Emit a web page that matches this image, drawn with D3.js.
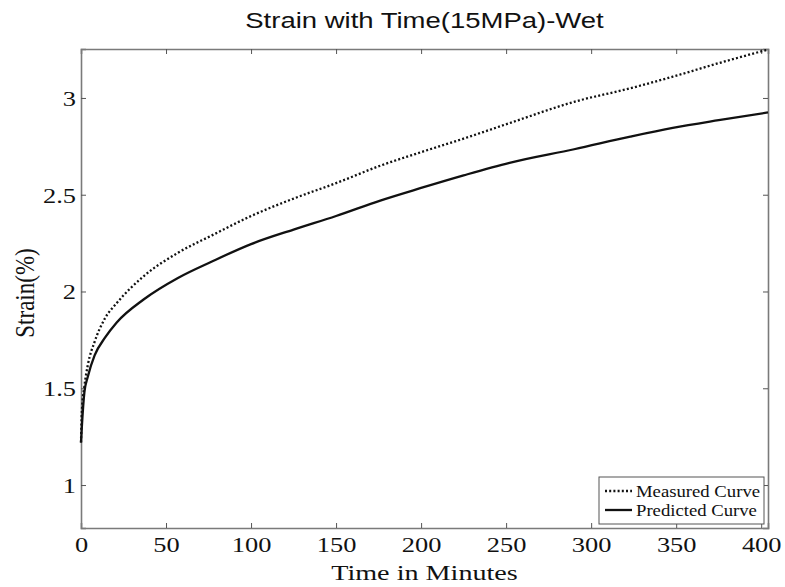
<!DOCTYPE html>
<html>
<head>
<meta charset="utf-8">
<script src="https://cdn.jsdelivr.net/npm/d3@7"></script>
<style>
  body { margin: 0; background: #fff; }
  svg { display: block; }
</style>
</head>
<body>
<script>
// time in minutes, strain in %
var times = [0, 0.5, 2, 4, 8, 14, 21, 37, 57, 77, 100, 125, 150, 176, 200, 225, 252, 290, 323, 348, 375, 404];
var measured = [1.22, 1.38, 1.51, 1.62, 1.74, 1.86, 1.94, 2.08, 2.20, 2.29, 2.39, 2.48, 2.56, 2.65, 2.72, 2.79, 2.87, 2.98, 3.05, 3.11, 3.18, 3.25];
var predicted = [1.22, 1.30, 1.48, 1.56, 1.67, 1.76, 1.84, 1.96, 2.07, 2.155, 2.245, 2.32, 2.39, 2.47, 2.535, 2.60, 2.665, 2.735, 2.80, 2.845, 2.885, 2.925];
var xTicks = [0, 50, 100, 150, 200, 250, 300, 350, 400];
var yTicks = [1, 1.5, 2, 2.5, 3];
var legendNames = ["Measured Curve", "Predicted Curve"];

var W = 785, H = 587;
var m = {left: 81, right: 17, top: 49, bottom: 59};
var iw = W - m.left - m.right, ih = H - m.top - m.bottom;
var sx = 1.2; // the original figure is stretched sideways

var svg = d3.select("body").append("svg").attr("width", W).attr("height", H);
var g = svg.append("g").attr("transform", "translate(" + m.left + "," + m.top + ")");

var x = d3.scaleLinear().domain([0, 404]).range([0, iw]);
var y = d3.scaleLinear().domain([0.778, 3.253]).range([ih, 0]);

var frameCol = "#7a7a7a";
var serif = "'Liberation Serif', 'Times New Roman', serif";

// axes, ticks pointing inwards on all four sides
var xb = g.append("g").attr("transform", "translate(0," + ih + ")")
  .call(d3.axisBottom(x).tickValues(xTicks).tickSize(-5).tickPadding(10).tickFormat(d3.format("d")));
var xt = g.append("g")
  .call(d3.axisTop(x).tickValues(xTicks).tickSize(-5).tickFormat(""));
var yl = g.append("g")
  .call(d3.axisLeft(y).tickValues(yTicks).tickSize(-5).tickPadding(10).tickFormat(d3.format("")));
var yr = g.append("g").attr("transform", "translate(" + iw + ",0)")
  .call(d3.axisRight(y).tickValues(yTicks).tickSize(-5).tickFormat(""));

[xb, xt, yl, yr].forEach(function(a) {
  a.select(".domain").attr("stroke", frameCol).attr("stroke-width", 1.6);
  a.selectAll(".tick line").attr("stroke", "#555").attr("stroke-width", 1);
  a.selectAll("text").attr("font-family", serif).attr("font-size", 22).attr("fill", "#111")
    .attr("transform", "scale(" + sx + ",1)");
});
yl.selectAll("text").attr("x", -5 / sx).attr("dy", "0.34em");
xb.selectAll("text").attr("y", 24).attr("dy", 0);

var line = d3.line()
  .x(function(d, i) { return x(times[i]); })
  .y(function(d) { return y(d); })
  .curve(d3.curveMonotoneX);

g.append("path").datum(predicted)
  .attr("fill", "none").attr("stroke", "#111").attr("stroke-width", 2.3)
  .attr("d", line);

g.append("path").datum(measured)
  .attr("fill", "none").attr("stroke", "#111").attr("stroke-width", 2.3)
  .attr("stroke-dasharray", "2,2.2")
  .attr("d", line);

// title and axis labels
svg.append("text")
  .attr("transform", "translate(" + (m.left + iw / 2) + ",28) scale(1.25,1)")
  .attr("text-anchor", "middle").attr("font-family", "'Liberation Sans', Arial, sans-serif")
  .attr("font-size", 22).attr("fill", "#111").text("Strain with Time(15MPa)-Wet");

svg.append("text")
  .attr("transform", "translate(" + (m.left + iw / 2) + ",580) scale(1.28,1)")
  .attr("text-anchor", "middle").attr("font-family", serif)
  .attr("font-size", 22).attr("fill", "#111").text("Time in Minutes");

svg.append("text").attr("transform", "translate(34," + (m.top + 244) + ") rotate(-90) scale(1,1.2)")
  .attr("text-anchor", "middle").attr("font-family", serif)
  .attr("font-size", 23).attr("fill", "#111").text("Strain(%)");

// legend
var lg = svg.append("g").attr("transform", "translate(599,477)");
lg.append("rect").attr("width", 165).attr("height", 47)
  .attr("fill", "#fff").attr("stroke", "#555").attr("stroke-width", 1);
legendNames.forEach(function(name, i) {
  var ly = 14 + i * 19;
  lg.append("line").attr("x1", 6).attr("x2", 33).attr("y1", ly).attr("y2", ly)
    .attr("stroke", "#111").attr("stroke-width", 2.3)
    .attr("stroke-dasharray", i === 0 ? "2,2.2" : null);
  lg.append("text").attr("transform", "translate(37," + (ly + 6) + ") scale(1.1,1)")
    .attr("font-family", serif).attr("font-size", 17).attr("fill", "#111").text(name);
});
</script>
</body>
</html>
